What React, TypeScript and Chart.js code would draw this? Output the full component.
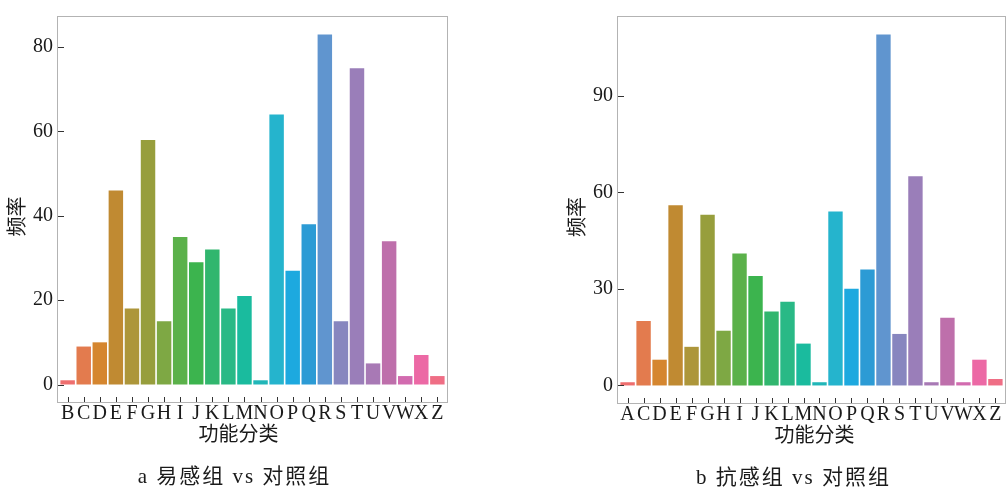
import { useEffect, useRef } from "react";
import { Chart, registerables } from "chart.js";

Chart.register(...registerables);

// Panel a: 易感组 vs 对照组
const categoriesA = ["B", "C", "D", "E", "F", "G", "H", "I", "J", "K", "L", "M", "N", "O", "P", "Q", "R", "S", "T", "U", "V", "W", "X", "Z"];
const frequencyA = [1, 9, 10, 46, 18, 58, 15, 35, 29, 32, 18, 21, 1, 64, 27, 38, 83, 15, 75, 5, 34, 2, 7, 2];
const yTicksA = [0, 20, 40, 60, 80];

// Panel b: 抗感组 vs 对照组
const categoriesB = ["A", "C", "D", "E", "F", "G", "H", "I", "J", "K", "L", "M", "N", "O", "P", "Q", "R", "S", "T", "U", "V", "W", "X", "Z"];
const frequencyB = [1, 20, 8, 56, 12, 53, 17, 41, 34, 23, 26, 13, 1, 54, 30, 36, 109, 16, 65, 1, 21, 1, 8, 2];
const yTicksB = [0, 30, 60, 90];

const barColors = [
  "#EE6E6E", "#E37B4E", "#D5862F", "#C08A32", "#AD963A", "#979E3C",
  "#7EA844", "#5BB14A", "#3CB44E", "#31B66E", "#29B986", "#1ABB9E",
  "#21B6B8", "#25B4CD", "#1DA9DF", "#2C9BD5", "#6095CF", "#8786BF",
  "#9A7EB9", "#A879B5", "#BE6FAB", "#D26BAF", "#EC69A5", "#EF6E85",
];

const TEXT = "#1a1a1a";
const FAMILY = '"Liberation Serif", "Noto Sans CJK SC", serif';

// Draws the panel frame, inward ticks, axis titles and the caption.
const panelDecor = {
  id: "panelDecor",
  afterDraw(chart: any, _args: any, opts: any) {
    const { ctx, chartArea: a, scales } = chart;
    ctx.save();
    ctx.strokeStyle = "#b3b3b3";
    ctx.lineWidth = 1;
    ctx.strokeRect(a.left - 0.5, a.top - 0.5, a.right - a.left + 1, a.bottom - a.top + 1);

    ctx.strokeStyle = "#333333";
    ctx.beginPath();
    for (const t of scales.x.ticks) {
      const px = Math.round(scales.x.getPixelForValue(t.value)) + 0.5;
      ctx.moveTo(px, a.bottom);
      ctx.lineTo(px, a.bottom - 5);
    }
    for (const t of scales.y.ticks) {
      const py = Math.round(scales.y.getPixelForValue(t.value)) + 0.5;
      ctx.moveTo(a.left, py);
      ctx.lineTo(a.left + 6, py);
    }
    ctx.stroke();

    const cx = (a.left + a.right) / 2;
    ctx.fillStyle = TEXT;
    ctx.textAlign = "center";
    ctx.textBaseline = "middle";
    ctx.font = `20px ${FAMILY}`;
    ctx.fillText(opts.xTitle, cx + opts.xTitleShift, a.bottom + 34);

    ctx.save();
    ctx.translate(19, (a.top + a.bottom) / 2 + 7);
    ctx.rotate(-Math.PI / 2);
    ctx.fillText(opts.yTitle, 0, 0);
    ctx.restore();

    ctx.font = `21px ${FAMILY}`;
    (ctx as any).letterSpacing = "2px";
    ctx.fillText(opts.caption, cx + opts.captionShift, a.bottom + 75);
    ctx.restore();
  },
};

type PanelProps = {
  categories: string[];
  values: number[];
  yTicks: number[];
  caption: string;
  xTitleShift: number;
  captionShift: number;
  width: number;
  height: number;
  padding: { left: number; top: number; right: number; bottom: number };
  left: number;
};

function BarPanel(p: PanelProps) {
  const ref = useRef<HTMLCanvasElement>(null);
  useEffect(() => {
    const yTop = Math.max(...p.values);
    const pad = yTop * 0.05;
    const font = { family: FAMILY, size: 20 };
    const chart = new Chart(ref.current as HTMLCanvasElement, {
      type: "bar",
      data: {
        datasets: [
          {
            data: p.values.map((v, i) => ({ x: i, y: v })),
            backgroundColor: barColors,
            borderWidth: 0,
            barPercentage: 0.9,
            categoryPercentage: 1,
          },
        ],
      },
      options: {
        animation: false,
        responsive: false,
        devicePixelRatio: 1,
        layout: { padding: p.padding },
        plugins: {
          legend: { display: false },
          tooltip: { enabled: false },
          panelDecor: {
            xTitle: "功能分类",
            yTitle: "频率",
            caption: p.caption,
            xTitleShift: p.xTitleShift,
            captionShift: p.captionShift,
          },
        } as any,
        scales: {
          x: {
            type: "linear",
            offset: false,
            min: -0.6,
            max: p.categories.length - 0.4,
            grid: { display: false, drawTicks: false },
            border: { display: false },
            afterBuildTicks: (s: any) => {
              s.ticks = p.categories.map((_, i) => ({ value: i }));
            },
            afterFit: (s: any) => {
              s.height = 25;
            },
            ticks: {
              autoSkip: false,
              maxRotation: 0,
              minRotation: 0,
              padding: 0,
              font,
              color: TEXT,
              callback: (v: any) => p.categories[v as number],
            },
          },
          y: {
            type: "linear",
            min: -pad,
            max: yTop + pad,
            grid: { display: false, drawTicks: false },
            border: { display: false },
            afterBuildTicks: (s: any) => {
              s.ticks = p.yTicks.map((v) => ({ value: v }));
            },
            afterFit: (s: any) => {
              s.width = 58;
            },
            ticks: { padding: 5, font, color: TEXT },
          },
        },
      },
      plugins: [panelDecor],
    });
    return () => chart.destroy();
  }, []);
  return (
    <canvas
      ref={ref}
      width={p.width}
      height={p.height}
      style={{ position: "absolute", left: p.left, top: 0, width: p.width, height: p.height }}
    />
  );
}

export default function App() {
  return (
    <div style={{ position: "absolute", left: 0, top: 0, width: 1007, height: 489, background: "#ffffff" }}>
      <BarPanel
        categories={categoriesA}
        values={frequencyA}
        yTicks={yTicksA}
        caption="a 易感组 vs 对照组"
        xTitleShift={-14}
        captionShift={-18}
        width={460}
        height={489}
        padding={{ left: 0, top: 12, right: 13, bottom: 62 }}
        left={0}
      />
      <BarPanel
        categories={categoriesB}
        values={frequencyB}
        yTicks={yTicksB}
        caption="b 抗感组 vs 对照组"
        xTitleShift={3}
        captionShift={-18}
        width={447}
        height={489}
        padding={{ left: 0, top: 11, right: 2, bottom: 61 }}
        left={560}
      />
    </div>
  );
}
